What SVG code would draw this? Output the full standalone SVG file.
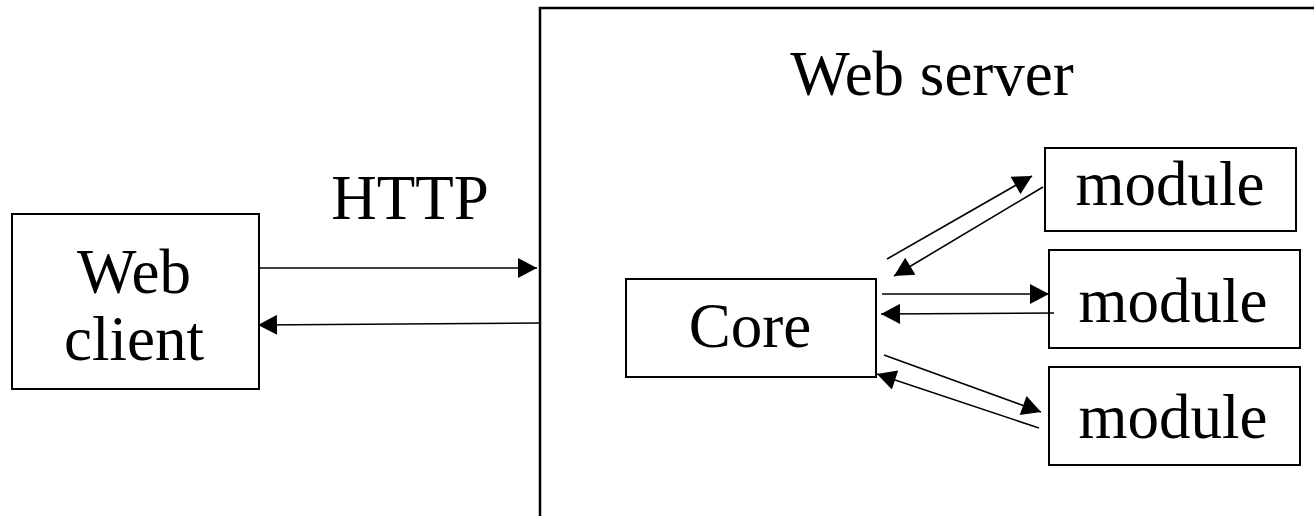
<svg xmlns="http://www.w3.org/2000/svg" width="1314" height="516" viewBox="0 0 1314 516">
<style>
.box{fill:#fff;stroke:#000;stroke-width:2}
.t{font-family:"Liberation Serif","Times New Roman",serif;font-size:63px;fill:#000;text-anchor:middle}
.c{stroke:#000;stroke-width:1.6;fill:none;marker-end:url(#ah)}
</style>
<defs>
<marker id="ah" markerUnits="userSpaceOnUse" markerWidth="20" markerHeight="20" viewBox="0 0 19 20" refX="19" refY="10" orient="auto">
<path d="M0,0 L19,10 L0,20 z" fill="#000"/>
</marker>
</defs>
<rect width="1314" height="516" fill="#fff"/>
<g id="server">
<path d="M540,516 V8 H1314" fill="none" stroke="#000" stroke-width="2.5"/>
<text class="t" x="932" y="95">Web server</text>
</g>
<g id="client">
<rect class="box" x="12" y="214" width="247" height="175"/>
<text class="t" x="134" y="293">Web</text>
<text class="t" x="134" y="360">client</text>
</g>
<text id="http" class="t" x="410" y="219">HTTP</text>
<g id="core">
<rect class="box" x="626" y="279" width="250" height="98"/>
<text class="t" x="750" y="347">Core</text>
</g>
<g id="module1">
<rect class="box" x="1045" y="148" width="251" height="83"/>
<text class="t" x="1170" y="205">module</text>
</g>
<g id="module2">
<rect class="box" x="1049" y="250" width="251" height="98"/>
<text class="t" x="1173" y="322">module</text>
</g>
<g id="module3">
<rect class="box" x="1049" y="367" width="251" height="98"/>
<text class="t" x="1173" y="438">module</text>
</g>
<g id="connectors">
<line class="c" x1="260" y1="268" x2="537" y2="268"/>
<line class="c" x1="540" y1="323" x2="258" y2="325"/>
<line class="c" x1="887" y1="259" x2="1032" y2="176"/>
<line class="c" x1="1043" y1="187" x2="894" y2="276"/>
<line class="c" x1="882" y1="294" x2="1049" y2="294"/>
<line class="c" x1="1054" y1="313" x2="881" y2="314"/>
<line class="c" x1="884" y1="355" x2="1041" y2="412"/>
<line class="c" x1="1039" y1="428" x2="877" y2="374"/>
</g>
</svg>
